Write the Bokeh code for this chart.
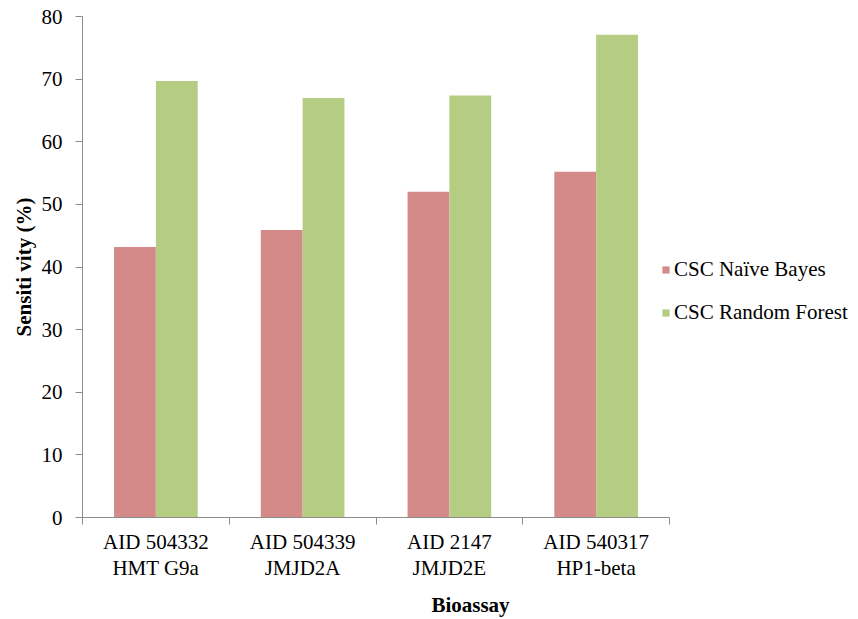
from bokeh.plotting import figure
from bokeh.models import (Range1d, FixedTicker, CustomJSTickFormatter, Legend,
                          LegendItem)
from bokeh.embed import file_html
from bokeh.resources import INLINE
import numpy as np

# Sensitivity (%) of each classifier per bioassay
bioassays = ["AID 504332\nHMT G9a", "AID 504339\nJMJD2A",
             "AID 2147\nJMJD2E", "AID 540317\nHP1-beta"]
naive_bayes = [43.2, 45.9, 52.0, 55.2]
random_forest = [69.7, 67.0, 67.4, 77.1]
series_names = ["CSC Naïve Bayes", "CSC Random Forest"]
y_ticks = [0, 10, 20, 30, 40, 50, 60, 70, 80]

PINK = "#D38A88"
GREEN = "#B5CD82"
AXIS_GRAY = "#8C8C8C"
SERIF = "Liberation Serif"

n = len(bioassays)
idx = np.arange(n)
bar_w = 0.285

# The frame runs to the right edge so the legend can sit beside the bars;
# the x axis line itself is bounded to the categories.
W, LEFT, AXIS_END = 858, 82, 669
x_end = n * (W - LEFT) / (AXIS_END - LEFT)

p = figure(width=W, height=619, output_backend="svg", toolbar_location=None,
           x_range=Range1d(0, x_end), y_range=Range1d(0, 80),
           min_border_left=LEFT, min_border_right=0,
           min_border_top=16, min_border_bottom=102)
p.outline_line_color = None
p.xgrid.visible = False
p.ygrid.visible = False
p.background_fill_color = "white"
p.border_fill_color = "white"

r_nb = p.vbar(x=idx + 0.5 - bar_w / 2, top=naive_bayes, width=bar_w,
              fill_color=PINK, line_color=None)
r_rf = p.vbar(x=idx + 0.5 + bar_w / 2, top=random_forest, width=bar_w,
              fill_color=GREEN, line_color=None)

# x axis: labels centred in each category, tick marks on the boundaries
xa = p.xaxis[0]
xa.bounds = (0, n)
xa.ticker = FixedTicker(ticks=list(idx + 0.5), minor_ticks=list(range(n + 1)))
xa.formatter = CustomJSTickFormatter(args=dict(labels=bioassays),
                                     code="return labels[Math.floor(tick)];")
xa.major_tick_out = 0
xa.major_tick_in = 0
xa.minor_tick_out = 7
xa.minor_tick_in = 0
xa.minor_tick_line_color = AXIS_GRAY
xa.axis_line_color = AXIS_GRAY
xa.major_label_text_font = SERIF
xa.major_label_text_font_size = "21px"
xa.major_label_text_line_height = 1.1
xa.major_label_text_color = "black"
xa.major_label_standoff = 5
xa.axis_label = "Bioassay"
xa.axis_label_text_font = SERIF
xa.axis_label_text_font_size = "21px"
xa.axis_label_text_font_style = "bold"
xa.axis_label_text_color = "black"
xa.axis_label_standoff = 10

ya = p.yaxis[0]
ya.ticker = FixedTicker(ticks=y_ticks)
ya.major_tick_out = 7
ya.major_tick_in = 0
ya.minor_tick_out = 0
ya.minor_tick_in = 0
ya.major_tick_line_color = AXIS_GRAY
ya.axis_line_color = AXIS_GRAY
ya.major_label_text_font = SERIF
ya.major_label_text_font_size = "21px"
ya.major_label_text_color = "black"
ya.major_label_standoff = 13
ya.axis_label = "Sensiti vity (%)"
ya.axis_label_text_font = SERIF
ya.axis_label_text_font_size = "21px"
ya.axis_label_text_font_style = "bold"
ya.axis_label_text_color = "black"
ya.axis_label_standoff = 3

legend = Legend(items=[LegendItem(label=series_names[0], renderers=[r_nb]),
                       LegendItem(label=series_names[1], renderers=[r_rf])],
                location=(579, 192), orientation="vertical",
                glyph_width=9, glyph_height=9, label_standoff=4,
                label_height=21, spacing=18, padding=0, margin=0,
                border_line_color=None, background_fill_alpha=0,
                label_text_font=SERIF, label_text_font_size="21px",
                label_text_color="black")
p.add_layout(legend)

open("out.html", "w").write(file_html(p, INLINE))
